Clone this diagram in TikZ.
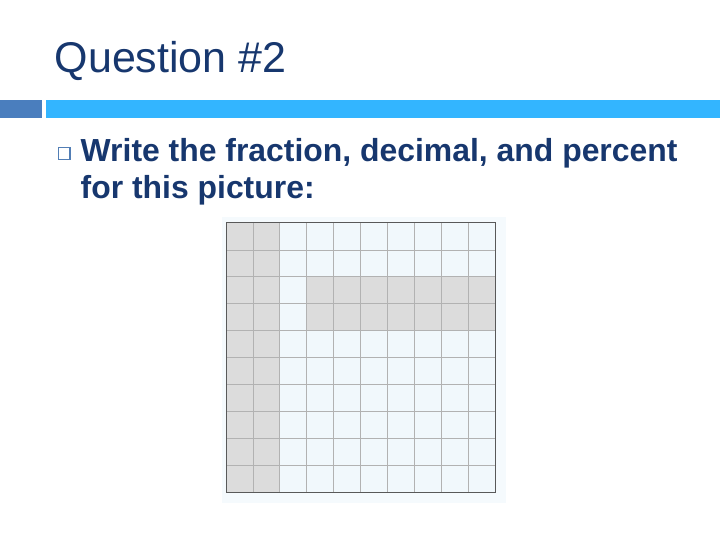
\documentclass[tikz,border=0pt]{standalone}
\usepackage{fontspec}
\setmainfont{Liberation Sans}
\definecolor{titleblue}{RGB}{23,55,110}
\definecolor{barblue}{RGB}{51,181,255}
\definecolor{blockblue}{RGB}{74,126,190}
\definecolor{cellgrey}{RGB}{220,220,220}
\definecolor{cellblue}{RGB}{241,248,252}
\definecolor{boxblue}{RGB}{245,250,253}
\tikzset{
  bodytext/.style={titleblue,anchor=base west,inner sep=0,font=\fontsize{31.9}{37}\selectfont\bfseries},
  gridline/.style={gray!60,line width=0.7}
}

\begin{document}
\begin{tikzpicture}[x=1pt,y=-1pt]
        \useasboundingbox (0,0) rectangle (720,540);
        % Titolo
        \node[titleblue,anchor=base west,inner sep=0,font=\fontsize{43}{50}\selectfont] (title) at (54.5,72.7) {Question \#2};

        % Barre
        \fill[blockblue] (0,100) rectangle (41.5,118);
        \fill[barblue] (46,100) rectangle (720,118);

        % Testo con quadratino
        \draw[blockblue!85!gray,line width=1.1] (58.3,147.3) rectangle (70,159.3);
        \node[bodytext] (line1) at (80.5,161.3) {Write the fraction, decimal, and percent};
        \node[bodytext] (line2) at (80.5,198.7) {for this picture:};

        % Griglia 10x10
        \fill[boxblue] (222,217) rectangle (506,503);
        \begin{scope}[shift={(226,223)},x=26.9pt,y=-26.9pt]
          \fill[cellblue] (0,0) rectangle (10,10);
          \fill[cellgrey] (0,0) rectangle (2,10);
          \fill[cellgrey] (3,2) rectangle (10,4);
          \foreach \i in {1,...,9} {
            \draw[gridline] (\i,0) -- (\i,10);
            \draw[gridline] (0,\i) -- (10,\i);
          }
          \draw[black!65,line width=1] (0,0) rectangle (10,10);
        \end{scope}
\end{tikzpicture}
\end{document}
